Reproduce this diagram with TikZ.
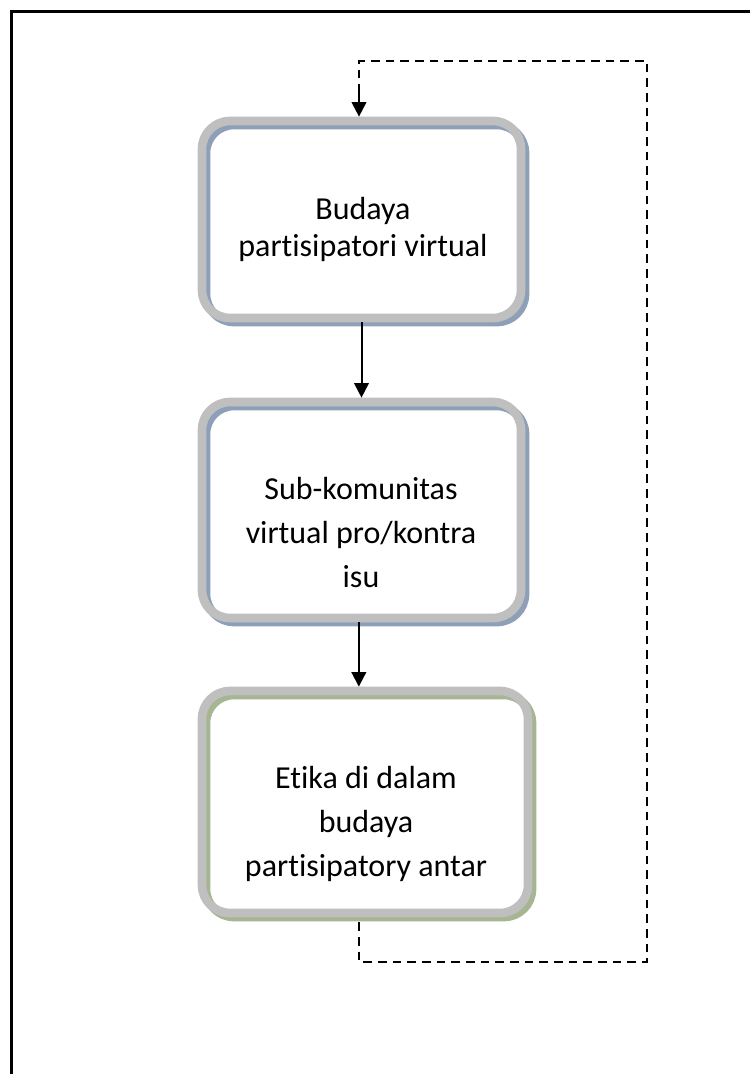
\documentclass[tikz,border=0pt]{standalone}
\usepackage{fontspec}
\setmainfont{Carlito}[Ligatures=NoCommon]
\usetikzlibrary{arrows.meta}

\definecolor{bingkai}{RGB}{191,191,191}
\definecolor{bayangbiru}{RGB}{142,160,184}
\definecolor{bayanghijau}{RGB}{166,181,146}

\tikzset{every picture/.style={line width=0.75pt}}
\tikzset{
  kotak/.style={draw=bingkai, line width=6.5pt, rounded corners=21pt, inner sep=0pt,
    preaction={fill=white},
    preaction={draw=#1, line width=6.5pt, transform canvas={xshift=3pt,yshift=-3pt}}},
  teks/.style={inner sep=0pt, align=center, font=\fontsize{24}{33}\selectfont},
  panah/.style={line width=1.5pt, -{Triangle[length=11pt,width=11pt]}},
  putus/.style={line width=1.5pt, dash pattern=on 6.5pt off 4.5pt}
}

\begin{document}
\begin{tikzpicture}[x=0.75pt,y=0.75pt,yscale=-1,xscale=1]
\useasboundingbox (0,0) rectangle (750,1074);

%Frame [open at right and bottom]
\draw [line width=1.6pt] (750,11.5) -- (11.5,11.5) -- (11.5,1074) ;

%Shape: Rounded Rect
\node [kotak=bayangbiru, minimum width=239.25pt, minimum height=147.75pt] (b1) at (361.5,219.5) {};
%Shape: Rounded Rect
\node [kotak=bayangbiru, minimum width=239.25pt, minimum height=162pt] (b2) at (361.5,510) {};
%Shape: Rounded Rect
\node [kotak=bayanghijau, minimum width=244.5pt, minimum height=166.5pt] (b3) at (365,802) {};

% Text Node
\node [teks, font=\fontsize{24}{27.75}\selectfont] (t1) at (363,229.5) {Budaya\\partisipatori virtual};
% Text Node
\node [teks] (t2) at (361,532.5) {Sub-komunitas\\virtual pro/kontra\\isu};
% Text Node
\node [teks] (t3) at (366,824) {Etika di dalam\\budaya\\partisipatory antar};

%Straight Lines
\draw [panah] (b1.south) -- (b1.south |- b2.north) ;
%Straight Lines
\draw [panah] ([xshift=-2pt]b2.south) -- ([xshift=-2pt]b2.south |- b3.north) ;

%Dashed feedback loop
\coordinate (k1) at (359,962);
\coordinate (k2) at (647,962);
\coordinate (k3) at (647,61);
\coordinate (k4) at (359,61);
\draw [putus] (k1 |- b3.south) ++(0,5) -- (k1) -- (k2) -- (k3) -- (k4) -- ++(0,30) ;
\draw [panah] (k4) ++(0,30) -- (k4 |- b1.north) ;

\end{tikzpicture}
\end{document}
